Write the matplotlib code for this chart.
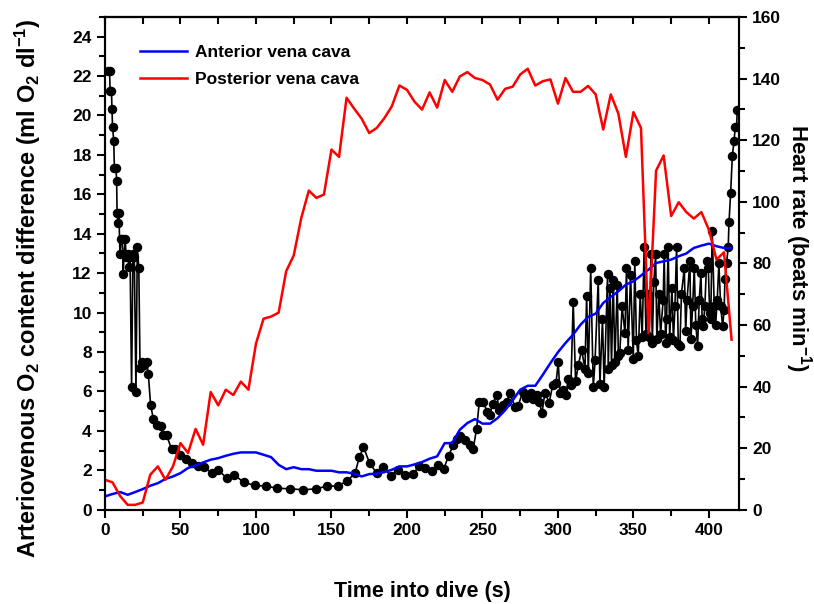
import numpy as np
import matplotlib
matplotlib.use("Agg")
import matplotlib.pyplot as plt
from matplotlib.ticker import MultipleLocator

plt.rcParams['font.family'] = ['Liberation Sans', 'DejaVu Sans']
plt.rcParams['font.weight'] = 'bold'
plt.rcParams['mathtext.fontset'] = 'custom'
plt.rcParams['mathtext.rm'] = 'Liberation Sans:bold'
plt.rcParams['mathtext.bf'] = 'Liberation Sans:bold'
plt.rcParams['mathtext.default'] = 'bf'

# O2 content difference, sampled every 5 s (ml O2 / dl)
vc_time = list(range(0, 420, 5))
anterior = [0.68, 0.80, 0.90, 0.76, 0.90, 1.05, 1.22, 1.35, 1.56, 1.69,
            1.86, 2.12, 2.25, 2.40, 2.54, 2.62, 2.74, 2.84, 2.91, 2.91,
            2.91, 2.79, 2.67, 2.28, 2.06, 2.16, 2.06, 2.06, 1.98, 1.98,
            1.98, 1.90, 1.90, 1.83, 1.69, 1.81, 1.83, 1.91, 2.03, 2.20,
            2.20, 2.30, 2.42, 2.59, 2.71, 3.38, 3.38, 4.06, 4.40, 4.60,
            4.37, 4.37, 4.65, 5.05, 5.55, 6.09, 6.29, 6.29, 6.85, 7.44,
            7.99, 8.46, 8.88, 9.39, 9.78, 9.95, 10.49, 10.80, 11.08, 11.42,
            11.59, 11.88, 12.18, 12.52, 12.60, 12.69, 12.86, 13.00, 13.28, 13.40,
            13.50, 13.37, 13.28, 13.28]
posterior = [1.52, 1.39, 0.70, 0.25, 0.25, 0.37, 1.78, 2.20, 1.52, 2.20,
             3.38, 2.88, 4.10, 3.30, 5.97, 5.30, 6.09, 5.82, 6.50, 6.09,
             8.43, 9.69, 9.80, 10.00, 12.10, 12.90, 14.80, 16.19, 15.82, 15.99,
             18.27, 17.90, 20.90, 20.35, 19.84, 19.11, 19.37, 19.86, 20.47, 21.52,
             21.30, 20.70, 20.30, 21.17, 20.40, 21.80, 21.20, 21.98, 22.20, 21.90,
             21.80, 21.57, 20.80, 21.35, 21.46, 22.08, 22.37, 21.52, 21.74, 21.83,
             20.60, 21.90, 21.20, 21.20, 21.50, 21.07, 19.29, 21.07, 20.10, 17.90,
             20.17, 19.37, 8.97, 17.20, 17.97, 14.90, 15.60, 15.10, 14.77, 15.10,
             14.20, 12.69, 13.06, 8.63]

# heart rate (beats / min)
hr_time = [2.0, 3.0, 3.4, 4.3, 4.6, 5.0, 5.8, 6.2, 7.3, 7.7,
           8.0, 8.6, 9.2, 9.9, 10.6, 11.4, 12.1, 12.6, 13.4, 14.0,
           15.0, 15.8, 16.6, 17.6, 18.5, 19.4, 20.5, 21.4, 22.4, 23.2,
           24.6, 26.0, 27.5, 28.7, 30.2, 32.0, 34.2, 36.8, 38.6, 40.8,
           44.1, 46.4, 49.9, 53.6, 57.4, 61.8, 65.7, 70.6, 75.0, 80.6,
           85.6, 92.0, 99.3, 106.4, 114.1, 122.5, 131.3, 139.7, 147.2, 154.5,
           160.5, 165.6, 168.4, 171.2, 175.3, 180.0, 184.3, 189.3, 193.9, 199.0,
           204.0, 208.1, 212.0, 216.4, 220.3, 224.4, 227.6, 230.7, 232.9, 235.3,
           238.4, 241.5, 243.9, 246.1, 247.9, 250.5, 253.2, 255.0, 256.7, 259.6,
           261.0, 263.8, 266.0, 268.2, 271.5, 273.7, 276.6, 278.8, 281.9, 283.6,
           286.3, 287.6, 289.4, 291.4, 294.2, 296.5, 298.7, 300.2, 301.3, 303.5,
           305.3, 306.8, 308.6, 310.1, 311.7, 313.5, 315.7, 317.9, 319.0, 320.1,
           321.7, 323.4, 324.6, 326.7, 327.8, 329.5, 330.6, 332.9, 333.3, 334.5,
           335.5, 336.6, 337.7, 339.3, 340.0, 341.0, 342.5, 344.4, 345.4, 346.5,
           348.1, 349.9, 350.9, 352.0, 353.2, 354.5, 355.8, 357.1, 358.3, 359.5,
           360.5, 361.6, 362.5, 363.5, 364.7, 365.5, 366.8, 368.0, 369.7, 370.4,
           371.3, 372.0, 373.0, 374.0, 375.5, 376.5, 377.5, 378.6, 379.7, 380.8,
           381.8, 383.7, 384.6, 385.5, 387.4, 388.1, 389.2, 390.3, 391.3, 392.5,
           393.6, 394.7, 395.5, 396.2, 397.3, 398.5, 399.6, 400.5, 401.2, 402.2,
           403.5, 404.4, 405.5, 406.6, 407.8, 409.1, 410.1, 410.6, 411.7, 412.8,
           413.3, 414.4, 415.5, 416.6, 417.5, 418.3, 418.8]
heart_rate = [142.5, 142.5, 136.0, 136.0, 130.0, 124.4, 119.7, 110.8, 110.8, 106.7,
              96.4, 93.2, 96.4, 83.1, 87.8, 87.8, 76.6, 83.1, 87.8, 82.0,
              83.0, 78.8, 82.0, 39.7, 83.0, 82.0, 38.2, 85.2, 78.4, 46.1,
              48.1, 47.0, 48.1, 44.0, 34.0, 29.6, 27.5, 27.2, 24.2, 24.2,
              19.7, 19.6, 17.8, 16.5, 15.2, 14.1, 13.8, 12.0, 12.9, 10.3,
              11.3, 8.9, 7.9, 7.7, 7.0, 6.8, 6.5, 6.8, 7.7, 7.7,
              9.5, 11.8, 17.0, 20.3, 15.1, 11.9, 14.0, 10.9, 13.0, 11.3,
              11.5, 14.3, 13.6, 12.7, 14.4, 13.3, 17.6, 21.0, 22.9, 24.1,
              22.8, 21.0, 19.8, 26.2, 34.9, 35.0, 31.8, 30.8, 34.5, 37.2,
              32.4, 33.9, 35.0, 37.8, 33.5, 33.8, 38.2, 36.4, 37.8, 36.1,
              37.2, 35.0, 31.4, 38.0, 34.8, 40.4, 41.0, 47.9, 38.0, 38.9,
              37.2, 42.3, 40.4, 67.6, 41.8, 46.9, 52.0, 45.6, 69.5, 44.3,
              78.4, 39.7, 48.6, 74.7, 40.7, 62.0, 39.7, 76.6, 45.8, 72.0,
              47.0, 74.7, 48.0, 73.0, 50.0, 51.0, 66.0, 57.4, 78.4, 52.0,
              76.3, 48.8, 80.6, 55.0, 49.9, 70.0, 56.0, 85.4, 57.0, 70.0,
              56.0, 83.0, 54.2, 74.0, 83.0, 55.5, 70.0, 57.0, 68.2, 83.0,
              54.0, 62.0, 85.4, 56.0, 72.0, 55.0, 66.0, 85.4, 53.7, 53.3,
              70.0, 78.4, 58.0, 68.0, 80.6, 55.3, 66.0, 78.4, 60.0, 53.3,
              68.0, 76.8, 62.0, 59.6, 66.0, 80.6, 78.4, 64.0, 62.0, 90.6,
              66.3, 59.9, 68.0, 80.0, 66.0, 59.6, 65.0, 74.9, 80.0, 85.4,
              93.3, 102.9, 114.8, 119.6, 124.4, 124.4, 129.8]

fig = plt.figure(figsize=(8.14, 6.04), dpi=100)
ax = fig.add_axes([0.129, 0.156, 0.779, 0.816])
ax2 = ax.twinx()

# heart rate on the right axis, drawn underneath the O2 curves
ax2.plot(hr_time, heart_rate, 'ko-', lw=1.2, ms=5.8, zorder=2)
ax.set_zorder(ax2.get_zorder() + 1)
ax.patch.set_visible(False)

ax.plot(vc_time, anterior, color='#0000ff', lw=1.8, label='Anterior vena cava')
ax.plot(vc_time, posterior, color='#ff0000', lw=1.8, label='Posterior vena cava')

ax.set_xlim(0, 420)
ax.set_ylim(0, 25)
ax2.set_ylim(0, 160)

ax.xaxis.set_major_locator(MultipleLocator(50))
ax.xaxis.set_minor_locator(MultipleLocator(25))
ax.yaxis.set_major_locator(MultipleLocator(2))
ax.yaxis.set_minor_locator(MultipleLocator(1))
ax2.yaxis.set_major_locator(MultipleLocator(20))
ax2.yaxis.set_minor_locator(MultipleLocator(10))

for a in (ax, ax2):
    for s in a.spines.values():
        s.set_linewidth(1.5)
ax.tick_params(axis='both', which='major', direction='out', length=6, width=1.5,
               labelsize=12.5)
ax.tick_params(axis='both', which='minor', direction='out', length=4, width=1.5)
ax2.tick_params(axis='y', which='major', direction='out', length=6, width=1.5,
                labelsize=12.5)
ax2.tick_params(axis='y', which='minor', direction='out', length=4, width=1.5)

# inward ticks along the top edge, no labels
top = ax.secondary_xaxis('top')
top.xaxis.set_major_locator(MultipleLocator(25))
top.tick_params(axis='x', direction='in', length=5, width=1.5, labeltop=False)
top.spines['top'].set_linewidth(1.5)

ax.set_xlabel('Time into dive (s)', fontsize=15.5, fontweight='bold', labelpad=31)
ax.set_ylabel(r'Arteriovenous O$_2$ content difference (ml O$_2$ dl$^{-1}$)',
              fontsize=17, fontweight='bold')
ax.yaxis.set_label_coords(-0.097, 0.45)
ax2.set_ylabel(r'Heart rate (beats min$^{-1}$)', fontsize=16, fontweight='bold',
               rotation=270, va='bottom')
ax2.yaxis.set_label_coords(1.07, 0.53)

leg = ax.legend(loc='upper left', bbox_to_anchor=(0.03, 0.975), frameon=False,
                prop={'weight': 'bold', 'size': 12.5}, handlelength=2.7,
                handletextpad=0.5, labelspacing=0.7)

fig.savefig('out.png', dpi=100)
